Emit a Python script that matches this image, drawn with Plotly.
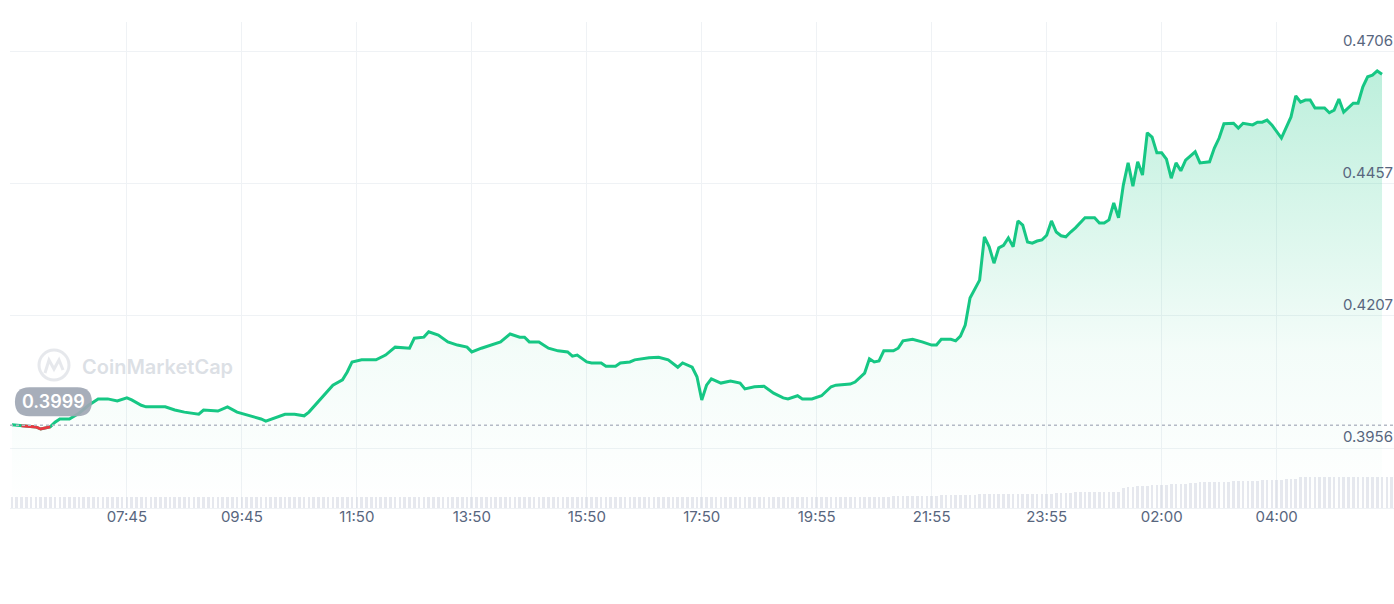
import plotly.graph_objects as go

# ---- data ----
idx = [0, 2, 4, 5, 6, 8, 9, 10, 12, 14, 16, 18, 20, 22, 24, 25, 27, 28, 30, 32,
       34, 36, 39, 40, 43, 45, 47, 49, 51, 52, 53, 55, 57, 59, 61, 62, 63, 65, 67, 69,
       70, 71, 73, 76, 78, 80, 83, 84, 86, 87, 89, 91, 93, 95, 96, 98, 100, 102, 104, 106,
       107, 108, 110, 112, 114, 116, 117, 118, 120, 121, 123, 124, 126, 127, 129, 130, 133, 135, 137, 139,
       140, 142, 143, 144, 145, 146, 148, 150, 152, 153, 155, 157, 159, 161, 162, 164, 165, 167, 169, 171,
       172, 175, 176, 178, 179, 180, 181, 182, 184, 185, 186, 188, 190, 192, 193, 194, 196, 197, 198, 199,
       200, 202, 203, 204, 205, 206, 207, 208, 209, 210, 211, 212, 213, 214, 215, 216, 217, 218, 219, 220,
       221, 222, 224, 226, 227, 228, 229, 230, 231, 232, 233, 234, 235, 236, 237, 238, 239, 240, 241, 242,
       243, 244, 245, 247, 248, 250, 251, 252, 253, 254, 255, 256, 257, 259, 260, 261, 262, 263, 265, 267,
       268, 269, 270, 271, 272, 274, 275, 276, 277, 278, 280, 281, 282, 283, 284, 285, 286]

price = [0.4000, 0.3998, 0.3996, 0.3996, 0.3992, 0.3996, 0.4005, 0.4011, 0.4011, 0.4022,
         0.4037, 0.4049, 0.4049, 0.4045, 0.4051, 0.4047, 0.4037, 0.4034, 0.4034, 0.4034,
         0.4028, 0.4024, 0.4020, 0.4028, 0.4026, 0.4034, 0.4024, 0.4019, 0.4013, 0.4011,
         0.4007, 0.4013, 0.4020, 0.4020, 0.4017, 0.4024, 0.4034, 0.4056, 0.4075, 0.4085,
         0.4100, 0.4119, 0.4123, 0.4123, 0.4132, 0.4147, 0.4145, 0.4164, 0.4166, 0.4176,
         0.4170, 0.4157, 0.4151, 0.4147, 0.4138, 0.4145, 0.4151, 0.4157, 0.4172, 0.4166,
         0.4166, 0.4157, 0.4157, 0.4145, 0.4140, 0.4138, 0.4130, 0.4132, 0.4119, 0.4117,
         0.4117, 0.4111, 0.4111, 0.4117, 0.4119, 0.4123, 0.4127, 0.4128, 0.4123, 0.4109,
         0.4117, 0.4109, 0.4091, 0.4047, 0.4075, 0.4087, 0.4079, 0.4083, 0.4079, 0.4068,
         0.4072, 0.4073, 0.4060, 0.4051, 0.4049, 0.4055, 0.4049, 0.4049, 0.4055, 0.4072,
         0.4075, 0.4077, 0.4081, 0.4098, 0.4125, 0.4119, 0.4121, 0.4140, 0.4140, 0.4145,
         0.4159, 0.4162, 0.4157, 0.4151, 0.4151, 0.4162, 0.4162, 0.4159, 0.4168, 0.4189,
         0.4240, 0.4274, 0.4356, 0.4337, 0.4306, 0.4335, 0.4340, 0.4354, 0.4337, 0.4386,
         0.4378, 0.4346, 0.4344, 0.4348, 0.4350, 0.4359, 0.4386, 0.4365, 0.4358, 0.4356,
         0.4365, 0.4373, 0.4392, 0.4392, 0.4382, 0.4382, 0.4388, 0.4420, 0.4392, 0.4454,
         0.4496, 0.4452, 0.4498, 0.4473, 0.4553, 0.4545, 0.4515, 0.4515, 0.4503, 0.4467,
         0.4496, 0.4481, 0.4501, 0.4517, 0.4496, 0.4498, 0.4524, 0.4543, 0.4570, 0.4570,
         0.4571, 0.4562, 0.4571, 0.4568, 0.4573, 0.4573, 0.4577, 0.4568, 0.4543, 0.4583,
         0.4623, 0.4611, 0.4615, 0.4615, 0.4600, 0.4600, 0.4591, 0.4596, 0.4617, 0.4592,
         0.4609, 0.4609, 0.4640, 0.4659, 0.4662, 0.4670, 0.4664]

open_price = 0.3999

# relative volume per 5-minute bar (index 0..286)
volume = [
    1.0, 1.0, 1.0, 1.0, 1.0, 1.0, 1.0, 1.0, 1.0, 1.0, 1.0, 1.0, 1.0, 1.0, 1.0, 1.0, 1.0, 1.0, 1.0, 1.0, 1.0, 1.0, 1.0, 1.0,
    1.0, 1.0, 1.0, 1.0, 1.0, 1.0, 1.0, 1.0, 1.0, 1.0, 1.0, 1.0, 1.0, 1.0, 1.0, 1.0, 1.0, 1.0, 1.0, 1.0, 1.0, 1.0, 1.0, 1.0,
    1.0, 1.0, 1.0, 1.0, 1.0, 1.0, 1.0, 1.0, 1.0, 1.0, 1.0, 1.0, 1.0, 1.0, 1.0, 1.0, 1.0, 1.0, 1.0, 1.0, 1.0, 1.0, 1.0, 1.0,
    1.0, 1.0, 1.0, 1.0, 1.0, 1.0, 1.0, 1.0, 1.0, 1.0, 1.0, 1.0, 1.0, 1.0, 1.0, 1.0, 1.0, 1.0, 1.0, 1.0, 1.0, 1.0, 1.0, 1.0,
    1.0, 1.0, 1.0, 1.0, 1.0, 1.0, 1.0, 1.0, 1.0, 1.0, 1.0, 1.0, 1.0, 1.0, 1.0, 1.0, 1.0, 1.0, 1.0, 1.0, 1.0, 1.0, 1.0, 1.0,
    1.0, 1.0, 1.0, 1.0, 1.0, 1.0, 1.0, 1.0, 1.0, 1.0, 1.0, 1.0, 1.0, 1.0, 1.0, 1.0, 1.0, 1.0, 1.0, 1.0, 1.0, 1.0, 1.0, 1.0,
    1.0, 1.0, 1.0, 1.0, 1.0, 1.0, 1.0, 1.0, 1.0, 1.0, 1.0, 1.0, 1.0, 1.0, 1.0, 1.0, 1.0, 1.0, 1.0, 1.0, 1.0, 1.0, 1.0, 1.0,
    1.0, 1.0, 1.0, 1.0, 1.0, 1.0, 1.0, 1.0, 1.0, 1.0, 1.0, 1.0, 1.0, 1.0, 1.0, 1.0, 1.05, 1.05, 1.05, 1.05, 1.1, 1.1, 1.1, 1.1,
    1.1, 1.1, 1.15, 1.15, 1.15, 1.15, 1.2, 1.2, 1.2, 1.2, 1.25, 1.25, 1.25, 1.25, 1.25, 1.3, 1.3, 1.3, 1.3, 1.3, 1.3, 1.3, 1.3, 1.3,
    1.3, 1.3, 1.35, 1.35, 1.35, 1.35, 1.4, 1.4, 1.4, 1.45, 1.45, 1.45, 1.45, 1.45, 1.45, 1.45, 1.8, 1.85, 1.9, 1.95, 2.0, 2.0, 2.05, 2.05,
    2.1, 2.1, 2.15, 2.15, 2.2, 2.2, 2.25, 2.25, 2.3, 2.3, 2.3, 2.3, 2.35, 2.35, 2.35, 2.4, 2.4, 2.4, 2.45, 2.45, 2.45, 2.5, 2.5, 2.5,
    2.55, 2.55, 2.6, 2.6, 2.6, 2.8, 2.8, 2.8, 2.8, 2.8, 2.8, 2.8, 2.8, 2.8, 2.8, 2.8, 2.8, 2.8, 2.8, 2.8, 2.8, 2.8, 2.8, 2.8, 2.8, 2.8, 2.8, 2.8,
]
vol_idx = list(range(len(volume)))

tick_idx = [24, 48, 72, 96, 120, 144, 168, 192, 216, 240, 264]
tick_labels = ["07:45", "09:45", "11:50", "13:50", "15:50", "17:50",
               "19:55", "21:55", "23:55", "02:00", "04:00"]

y_ticks = [0.3956, 0.4207, 0.4457, 0.4706]
y_labels = ["0.3956", "0.4207", "0.4457", "0.4706"]

GREEN = "#16c784"
RED = "#ea3943"
TXT = "#58667e"
GRID = "#eff2f5"

# red segment: points below the open price
red_x = [i for i, p in zip(idx, price) if p < open_price]
red_y = [p for p in price if p < open_price]

fig = go.Figure()

fig.add_trace(go.Scatter(
    x=idx, y=price, mode="lines",
    line=dict(color=GREEN, width=3),
    fill="tozeroy",
    fillgradient=dict(type="vertical",
                      colorscale=[[0, "rgba(22,199,132,0)"],
                                  [0.35, "rgba(22,199,132,0.05)"],
                                  [1, "rgba(22,199,132,0.30)"]],
                      start=0.3842, stop=0.4706),
    hoverinfo="skip",
))
fig.add_trace(go.Scatter(
    x=red_x, y=red_y, mode="lines",
    line=dict(color=RED, width=3), hoverinfo="skip",
))
fig.add_trace(go.Bar(
    x=vol_idx, y=volume, yaxis="y2", width=0.55,
    marker=dict(color="rgba(205,210,222,0.5)", line=dict(width=0)),
    hoverinfo="skip",
))

# open-price dotted line
fig.add_shape(type="line", xref="paper", yref="y", x0=0, x1=1,
              y0=open_price, y1=open_price,
              line=dict(color="#b4bac6", width=1.5, dash="dot"), layer="above")

# price badge
fig.add_shape(type="path", xref="x", yref="y", xsizemode="pixel", ysizemode="pixel",
              xanchor=0, yanchor=open_price,
              path="M 17.5,9 L 65.5,9 Q 80,9 80,23.5 Q 80,38 65.5,38 L 17.5,38 Q 3,38 3,23.5 Q 3,9 17.5,9 Z",
              fillcolor="rgba(160,167,180,0.92)", line=dict(width=0), layer="above")
fig.add_annotation(x=0, y=open_price, xref="x", yref="y", text=f"{open_price:.4f}",
                   showarrow=False, xanchor="center", yanchor="middle",
                   xshift=42, yshift=23.5,
                   font=dict(family="Inter", size=18, color="white", weight=600))

# watermark
fig.add_shape(type="circle", xref="paper", yref="paper", xsizemode="pixel", ysizemode="pixel",
              xanchor=0, yanchor=0.29, x0=29, x1=59, y0=-13, y1=17,
              line=dict(color="rgba(205,210,218,0.5)", width=3), layer="below")
fig.add_shape(type="path", xref="paper", yref="paper", xsizemode="pixel", ysizemode="pixel",
              xanchor=0, yanchor=0.29,
              path="M 35,-6 L 39,7 L 44,-2 L 49,7 L 53,-3",
              line=dict(color="rgba(205,210,218,0.5)", width=3), layer="below")
fig.add_annotation(x=0, y=0.29, xref="paper", yref="paper", text="CoinMarketCap",
                   showarrow=False, xanchor="left", yanchor="middle", xshift=70,
                   font=dict(family="Inter", size=20, color="rgba(205,210,218,0.7)", weight=600))

fig.update_layout(
    width=1394, height=604,
    margin=dict(l=10, r=0, t=22, b=96),
    paper_bgcolor="white", plot_bgcolor="white",
    showlegend=False, hovermode=False,
    bargap=0,
    xaxis=dict(range=[-0.4, 288.5], tickvals=tick_idx, ticktext=tick_labels,
               showgrid=True, gridcolor=GRID, gridwidth=1, zeroline=False,
               showline=True, linecolor=GRID, ticks="", ticklabelstandoff=-5,
               tickfont=dict(family="Inter", size=15, color=TXT)),
    yaxis=dict(range=[0.38424, 0.47628], side="right", tickvals=y_ticks, ticktext=y_labels,
               ticklabelposition="inside", ticklabelshift=-11, ticklabelstandoff=-2,
               showgrid=True, gridcolor=GRID, gridwidth=1, zeroline=False, ticks="",
               tickfont=dict(family="Inter", size=15, color=TXT)),
    yaxis2=dict(range=[0, 43.7], overlaying="y", visible=False, fixedrange=True),
)

fig.write_html("out.html")
